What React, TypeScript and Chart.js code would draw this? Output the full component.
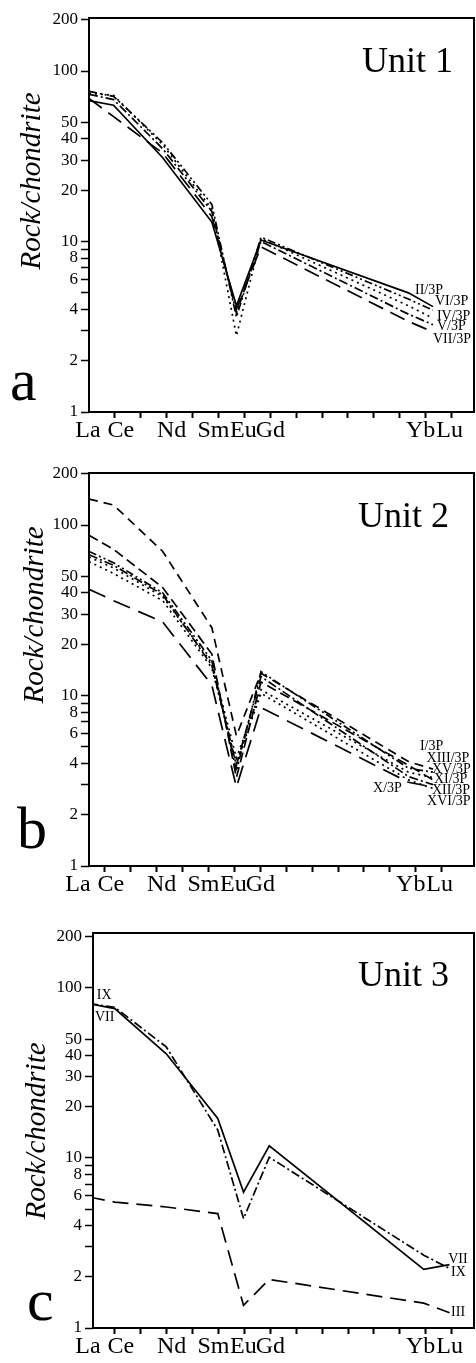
import React, { useEffect, useRef } from 'react';
import { Chart, registerables } from 'chart.js';

Chart.register(...registerables);

// ---------- categories / ticks ----------
const ELEMENTS = ['La', 'Ce', 'Pr', 'Nd', 'Pm', 'Sm', 'Eu', 'Gd', 'Tb', 'Dy', 'Ho', 'Er', 'Tm', 'Yb', 'Lu'];
const MEASURED = ['La', 'Ce', 'Nd', 'Sm', 'Eu', 'Gd', 'Yb', 'Lu'];
const X_LABELS = ['La', 'Ce', 'Nd', 'Sm', 'Eu', 'Gd', 'Yb', 'Lu'];
const X_LABEL_SHIFT_PX = [-1, 6, 5, -5, -1, 0, -5, -2];
const Y_TICKS = [1, 2, 3, 4, 5, 6, 7, 8, 9, 10, 20, 30, 40, 50, 100, 200];
const Y_LABELS = [1, 2, 4, 6, 8, 10, 20, 30, 40, 50, 100, 200];

// ---------- Unit 1 (a) ----------
const U1_II_3P = [67, 63, 31, 13, 4.2, 10.2, 5.0, 4.15];
const U1_VI_3P = [76, 71, 38, 16.5, 3.6, 10.6, 4.6, 3.95];
const U1_IV_3P = [74, 72, 37, 15.5, 2.8, 10.4, 4.2, 3.55];
const U1_V_3P = [73, 68, 35, 15, 3.8, 10.0, 3.75, 3.25];
const U1_VII_3P = [69, 54, 33, 14, 4.0, 9.3, 3.4, 2.95];

// ---------- Unit 2 (b) ----------
const U2_I_3P = [142, 131, 70, 25, 5.8, 13.5, 4.1, 3.7];
const U2_XIII_3P = [70, 60, 40, 16, 3.6, 13.8, 3.75, 3.55];
const U2_XV_3P = [65, 56, 38, 15.5, 4.3, 10.8, 3.55, 3.3];
const U2_XI_3P = [87, 72, 43, 17.5, 3.3, 12.0, 3.9, 3.2];
const U2_XII_3P = [67, 58, 39, 15, 3.9, 12.9, 3.35, 3.0];
const U2_XVI_3P = [61, 52, 36, 14.5, 4.0, 10.3, 3.2, 2.85];
const U2_X_3P = [42, 36, 27, 11.5, 2.9, 8.5, 3.1, 2.9];

// ---------- Unit 3 (c) ----------
const U3_IX = [81, 75.7, 41, 17.1, 6.3, 11.8, 2.21, 2.36];
const U3_VII = [81, 77, 45, 14.6, 4.4, 10.1, 2.68, 2.24];
const U3_III = [5.9, 5.5, 5.15, 4.71, 1.36, 1.93, 1.4, 1.23];

// ---------- styles ----------
const SOLID: number[] = [];
const DOTTED = [2, 4];
const DASH_DOT = [9, 3, 2, 3];
const DASH_DOT_DOT = [8, 3, 2, 3, 2, 3];
const LONG_DASH = [16, 8];
const SHORT_DASH = [9, 6];
const MED_DASH = [10, 5];
const XLONG_DASH = [18, 9];

const FONT = "'Liberation Serif', 'Times New Roman', serif";
const TICK_PX_PER_UNIT = 25.9;

type Series = { values: number[]; dash: number[] };
type Label = { text: string; x: number; y: number };
type Panel = {
  top: number;
  height: number;
  area: { left: number; top: number; right: number; bottom: number };
  yMax: number;
  tickMin: number;
  tickMax: number;
  dataMin: number;
  dataMax: number;
  series: Series[];
  labels: Label[];
  unit: { text: string; x: number; y: number };
  letter: { text: string; x: number; y: number };
  title: { x: number; y: number };
};

const PANELS: Panel[] = [
  {
    top: 0,
    height: 455,
    area: { left: 89, top: 18, right: 474, bottom: 412 },
    yMax: 204.6,
    tickMin: 0,
    tickMax: 14.865,
    dataMin: 0,
    dataMax: 15.67,
    series: [
      { values: U1_II_3P, dash: SOLID },
      { values: U1_VI_3P, dash: DASH_DOT_DOT },
      { values: U1_IV_3P, dash: DOTTED },
      { values: U1_V_3P, dash: DASH_DOT },
      { values: U1_VII_3P, dash: LONG_DASH },
    ],
    labels: [
      { text: 'II/3P', x: 13.27, y: 5.19 },
      { text: 'VI/3P', x: 14.08, y: 4.48 },
      { text: 'IV/3P', x: 14.16, y: 3.66 },
      { text: 'V/3P', x: 14.16, y: 3.19 },
      { text: 'VII/3P', x: 14.0, y: 2.68 },
    ],
    unit: { text: 'Unit 1', x: 362, y: 71.5 },
    letter: { text: 'a', x: 10, y: 400 },
    title: { x: 40, y: 181 },
  },
  {
    top: 455,
    height: 445,
    area: { left: 89, top: 18, right: 474, bottom: 411 },
    yMax: 201.9,
    tickMin: 0.386,
    tickMax: 15.25,
    dataMin: 0,
    dataMax: 15.67,
    series: [
      { values: U2_I_3P, dash: SHORT_DASH },
      { values: U2_XIII_3P, dash: DASH_DOT_DOT },
      { values: U2_XV_3P, dash: DOTTED },
      { values: U2_XI_3P, dash: MED_DASH },
      { values: U2_XII_3P, dash: DASH_DOT },
      { values: U2_XVI_3P, dash: DOTTED },
      { values: U2_X_3P, dash: XLONG_DASH },
    ],
    labels: [
      { text: 'I/3P', x: 13.47, y: 5.01 },
      { text: 'XIII/3P', x: 13.74, y: 4.28 },
      { text: 'XV/3P', x: 13.96, y: 3.71 },
      { text: 'XI/3P', x: 14.04, y: 3.22 },
      { text: 'XII/3P', x: 13.96, y: 2.79 },
      { text: 'XVI/3P', x: 13.76, y: 2.4 },
      { text: 'X/3P', x: 11.56, y: 2.87 },
    ],
    unit: { text: 'Unit 2', x: 358, y: 71.7 },
    letter: { text: 'b', x: 17, y: 393 },
    title: { x: 43, y: 160 },
  },
  {
    top: 900,
    height: 463,
    area: { left: 93, top: 33, right: 474, bottom: 428 },
    yMax: 210.6,
    tickMin: 0.154,
    tickMax: 14.865,
    dataMin: 0.155,
    dataMax: 14.95,
    series: [
      { values: U3_IX, dash: SOLID },
      { values: U3_VII, dash: DASH_DOT },
      { values: U3_III, dash: LONG_DASH },
    ],
    labels: [
      { text: 'IX', x: 0.3, y: 90.5 },
      { text: 'VII', x: 0.23, y: 67.2 },
      { text: 'VII', x: 13.95, y: 2.54 },
      { text: 'IX', x: 14.06, y: 2.13 },
      { text: 'III', x: 14.06, y: 1.23 },
    ],
    unit: { text: 'Unit 3', x: 358, y: 86 },
    letter: { text: 'c', x: 27, y: 420 },
    title: { x: 45, y: 231 },
  },
];

const decorPlugin = {
  id: 'decor',
  afterDraw(chart: any, _args: any, opts: any) {
    const { ctx, chartArea } = chart;
    const p: Panel = opts.panel;
    ctx.save();
    ctx.strokeStyle = '#000';
    ctx.lineWidth = 2;
    ctx.strokeRect(chartArea.left, chartArea.top, chartArea.right - chartArea.left, chartArea.bottom - chartArea.top);

    ctx.fillStyle = '#000';
    ctx.textAlign = 'left';
    ctx.textBaseline = 'alphabetic';
    ctx.font = `36px ${FONT}`;
    ctx.fillText(p.unit.text, p.unit.x, p.unit.y);
    ctx.font = `60px ${FONT}`;
    ctx.fillText(p.letter.text, p.letter.x, p.letter.y);

    ctx.save();
    ctx.translate(p.title.x, p.title.y);
    ctx.rotate(-Math.PI / 2);
    ctx.textAlign = 'center';
    ctx.font = `italic 29px ${FONT}`;
    ctx.fillText('Rock/chondrite', 0, 0);
    ctx.restore();

    const xs = chart.scales.xd;
    const ys = chart.scales.y;
    ctx.font = `14px ${FONT}`;
    ctx.textBaseline = 'middle';
    ctx.textAlign = 'left';
    for (const l of p.labels) {
      ctx.fillText(l.text, xs.getPixelForValue(l.x), ys.getPixelForValue(l.y));
    }
    ctx.restore();
  },
};

function PanelChart({ panel }: { panel: Panel }) {
  const ref = useRef<HTMLCanvasElement | null>(null);
  useEffect(() => {
    if (!ref.current) return;
    const W = 476;
    const datasets = panel.series.map((s) => ({
      data: MEASURED.map((el, i) => ({ x: ELEMENTS.indexOf(el), y: s.values[i] })),
      borderColor: '#000',
      borderWidth: 1.7,
      borderDash: s.dash,
      pointRadius: 0,
      tension: 0,
      fill: false,
      xAxisID: 'xd',
      yAxisID: 'y',
    }));
    const chart = new Chart(ref.current, {
      type: 'line',
      data: { datasets },
      plugins: [decorPlugin],
      options: {
        animation: false,
        responsive: false,
        maintainAspectRatio: false,
        layout: { padding: { left: 0, top: panel.area.top, right: W - panel.area.right, bottom: 0 } },
        plugins: {
          legend: { display: false },
          tooltip: { enabled: false },
          decor: { panel },
        } as any,
        scales: {
          x: {
            type: 'linear',
            position: 'bottom',
            min: panel.tickMin,
            max: panel.tickMax,
            afterBuildTicks: (axis: any) => {
              axis.ticks = ELEMENTS.map((_, i) => ({ value: i }));
            },
            afterFit: (axis: any) => {
              axis.height = 4;
            },
            border: { display: false },
            grid: {
              drawOnChartArea: false,
              drawTicks: true,
              tickLength: 6,
              tickWidth: 2,
              tickColor: (ctx: any) => (ctx.tick && ctx.tick.value === 0 ? 'rgba(0,0,0,0)' : '#000'),
            },
            ticks: { display: false, autoSkip: false },
          },
          xl: {
            type: 'linear',
            axis: 'x',
            position: 'bottom',
            min: panel.tickMin,
            max: panel.tickMax,
            afterBuildTicks: (axis: any) => {
              axis.ticks = X_LABELS.map((el, i) => ({
                value: ELEMENTS.indexOf(el) + X_LABEL_SHIFT_PX[i] / TICK_PX_PER_UNIT,
              }));
            },
            afterFit: (axis: any) => {
              axis.height = panel.height - panel.area.bottom - 4;
            },
            border: { display: false },
            grid: { display: false, drawOnChartArea: false, drawTicks: false },
            ticks: {
              autoSkip: false,
              maxRotation: 0,
              padding: 0,
              color: '#000',
              font: { family: FONT, size: 24 },
              callback: (_v: any, i: number) => X_LABELS[i] ?? '',
            },
          },
          xd: {
            type: 'linear',
            axis: 'x',
            position: 'bottom',
            display: false,
            min: panel.dataMin,
            max: panel.dataMax,
          },
          y: {
            type: 'logarithmic',
            position: 'left',
            min: 1,
            max: panel.yMax,
            afterBuildTicks: (axis: any) => {
              axis.ticks = Y_TICKS.map((v) => ({ value: v }));
            },
            afterFit: (axis: any) => {
              axis.width = panel.area.left;
            },
            border: { display: false },
            grid: {
              drawOnChartArea: false,
              drawTicks: true,
              tickLength: 8,
              tickWidth: 1.5,
              tickColor: '#000',
            },
            ticks: {
              autoSkip: false,
              padding: 3,
              color: '#000',
              font: { family: FONT, size: 17 },
              callback: (v: any) => (Y_LABELS.includes(Number(v)) ? String(v) : ''),
            },
          },
        },
      } as any,
    });
    return () => chart.destroy();
  }, [panel]);
  return (
    <div style={{ position: 'absolute', left: 0, top: panel.top, width: 476, height: panel.height }}>
      <canvas ref={ref} width={476} height={panel.height} style={{ width: 476, height: panel.height, display: 'block' }} />
    </div>
  );
}

export default function App() {
  return (
    <div style={{ position: 'absolute', left: 0, top: 0, width: 476, height: 1363, background: '#fff' }}>
      {PANELS.map((p, i) => (
        <PanelChart key={i} panel={p} />
      ))}
    </div>
  );
}
